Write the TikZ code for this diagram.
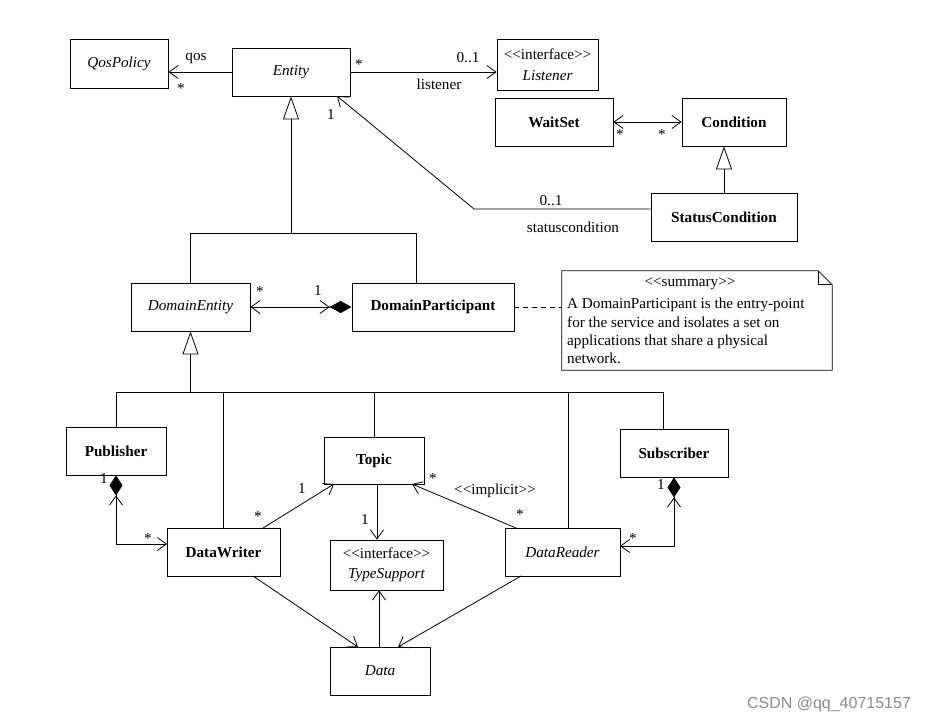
\documentclass[tikz,border=0pt]{standalone}
\usepackage{fontspec}
\setmainfont{Liberation Serif}[Ligatures=TeXOff]
\newfontfamily\wmfont{Liberation Sans}
\usetikzlibrary{arrows.meta}
\begin{document}
\begin{tikzpicture}[x=1pt,y=-1pt,
  every node/.style={font=\fontsize{15.2}{17}\selectfont},
  cls/.style={draw, line width=0.8pt, inner sep=0pt, align=center},
  two/.style={font=\fontsize{15.2}{20.5}\selectfont},
  ln/.style={line width=0.8pt},
  lbl/.style={inner sep=0pt},
  nb/.tip={Straight Barb[length=9pt,width=13pt,line width=0.8pt,sep=0pt]},
  dia/.tip={Diamond[length=22pt,width=12pt,sep=0pt]},
  pdia/.tip={Diamond[length=20pt,width=13pt,sep=0pt]},
  gtri/.tip={Triangle[open,length=23pt,width=16pt,line width=0.8pt,fill=white]}]
\fill[white] (0,0) rectangle (928,722);
\useasboundingbox (0,0) rectangle (928,722);

% classes
\node[cls, minimum width=98pt, minimum height=49pt] (qos) at (119,63.5) {\itshape QosPolicy};
\node[cls, minimum width=118pt, minimum height=48pt] (ent) at (291,72) {\itshape Entity};
\node[cls, two, minimum width=101pt, minimum height=51pt] (lis) at (547.5,64.5) {<<interface>>\\\itshape Listener};
\node[cls, minimum width=118pt, minimum height=48pt] (wait) at (554,122) {\bfseries WaitSet};
\node[cls, minimum width=104pt, minimum height=48pt] (cond) at (734,122) {\bfseries Condition};
\node[cls, minimum width=146pt, minimum height=48pt] (stat) at (724,217) {\bfseries StatusCondition};
\node[cls, minimum width=119pt, minimum height=48pt] (de) at (190.5,307) {\itshape DomainEntity};
\node[cls, minimum width=162pt, minimum height=48pt] (dp) at (433,307) {\bfseries DomainParticipant};
\node[cls, minimum width=100pt, minimum height=48pt] (pub) at (116,451) {\bfseries Publisher};
\node[cls, minimum width=100pt, minimum height=47pt] (topic) at (374,460.5) {\bfseries Topic};
\node[cls, minimum width=108pt, minimum height=48pt] (sub) at (674,453) {\bfseries Subscriber};
\node[cls, minimum width=113pt, minimum height=48pt] (dw) at (223.5,552) {\bfseries DataWriter};
\node[cls, two, minimum width=113pt, minimum height=50pt] (ts) at (386.5,565) {<<interface>>\\\itshape TypeSupport};
\node[cls, minimum width=115pt, minimum height=48pt] (dr) at (562.5,552) {\itshape DataReader};
\node[cls, minimum width=100pt, minimum height=48pt] (data) at (380,671) {\itshape Data};

% note
\node[minimum width=270pt, minimum height=99pt, inner sep=0pt] (note) at (697,320.5) {};
\draw[ln] (note.south west) -- (note.north west) -- ([xshift=-14pt]note.north east)
  -- ([yshift=-14pt]note.north east) -- (note.south east) -- cycle;
\draw[ln] ([xshift=-14pt]note.north east) -- ([xshift=-14pt,yshift=-14pt]note.north east) -- ([yshift=-14pt]note.north east);
\node[lbl] (sumt) at (690,284) {<<summary>>};
\node[lbl, anchor=base west] (n1) at (567,308) {A DomainParticipant is the entry-point};
\node[lbl, anchor=base west] (n2) at (567,327) {for the service and isolates a set on};
\node[lbl, anchor=base west] (n3) at (567,345) {applications that share a physical};
\node[lbl, anchor=base west] (n4) at (567,363) {network.};

% top connectors
\draw[ln,-{nb[]}] (ent.west) -- (ent.west -| qos.east);
\draw[ln,-{nb[]}] (ent.east) -- (ent.east -| lis.west);
\draw[ln,{nb[]}-{nb[]}] (wait.east) -- (cond.west);
\draw[ln,-{gtri[]}] (stat.north) -- (stat.north |- cond.south);
\coordinate (scbend) at (474,209);
\coordinate (entsc) at (337,96);
\draw[ln,-{nb[]}] (stat.west |- scbend) -- (scbend) -- (entsc);

% Entity generalization
\coordinate (g1) at (291,233);
\draw[ln,-{gtri[]}] (g1) -- (ent.south);
\coordinate (dptop) at (416,283);
\draw[ln] (de.north) |- (dptop |- g1) -- (dptop);
\draw[ln,{nb[]}-{nb[] dia[]}] (de.east) -- (dp.west);
\draw[ln,dash pattern=on 5pt off 4pt] (dp.east) -- (dp.east -| note.west);

% DomainEntity generalization
\coordinate (g2) at (190.5,392);
\draw[ln,-{gtri[]}] (g2) -- (de.south);
\coordinate (subtop) at (663,429);
\coordinate (drtop) at (568,528);
\draw[ln] (pub.north) |- (subtop |- g2) -- (subtop);
\draw[ln] (dw.north) -- (dw.north |- g2);
\draw[ln] (topic.north) -- (topic.north |- g2);
\draw[ln] (drtop) -- (drtop |- g2);

% compositions
\coordinate (dwl) at (167,544);
\draw[ln,{pdia[] nb[]}-{nb[]}] (pub.south) |- (dwl);
\coordinate (drr) at (620,546);
\draw[ln,{pdia[] nb[]}-{nb[]}] (sub.south) |- (drr);

% bottom associations
\coordinate (dwt) at (263,528); \coordinate (tpl) at (334,484);
\draw[ln,-{nb[]}] (dwt) -- (tpl);
\coordinate (drt) at (516,528); \coordinate (tpr) at (412,484);
\draw[ln,-{nb[]}] (drt) -- (tpr);
\draw[ln,-{nb[]}] ([xshift=3pt]topic.south) -- ([xshift=3pt]topic.south |- ts.north);
\draw[ln,-{nb[]}] ([xshift=-1pt]data.north) -- ([xshift=-1pt]data.north |- ts.south);
\coordinate (dwb) at (253,576); \coordinate (dal) at (358,647);
\draw[ln,-{nb[]}] (dwb) -- (dal);
\coordinate (drb) at (521,576); \coordinate (dar) at (398,647);
\draw[ln,-{nb[]}] (drb) -- (dar);

% labels
\node[lbl] (l1) at (196,58) {qos};
\node[lbl] (l2) at (181,89) {*};
\node[lbl] (l3) at (359,65) {*};
\node[lbl] (l4) at (468,58) {0..1};
\node[lbl] (l5) at (439,84) {listener};
\node[lbl] (l6) at (331,114) {1};
\node[lbl] (l7) at (620,135) {*};
\node[lbl] (l8) at (662,135) {*};
\node[lbl] (l9) at (551,201) {0..1};
\node[lbl] (l10) at (573,227) {statuscondition};
\node[lbl] (l11) at (260,292) {*};
\node[lbl] (l12) at (318,290) {1};
\node[lbl] (l13) at (104,478) {1};
\node[lbl] (l14) at (148,539) {*};
\node[lbl] (l15) at (258,517) {*};
\node[lbl] (l16) at (302,488) {1};
\node[lbl] (l17) at (365,519) {1};
\node[lbl] (l18) at (433,479) {*};
\node[lbl] (l19) at (495,491) {<<implicit>>};
\node[lbl] (l20) at (520,515) {*};
\node[lbl] (l21) at (661,484) {1};
\node[lbl] (l22) at (633,539) {*};

% watermark
\node[lbl, font=\wmfont\fontsize{16}{18}\selectfont, text=black!45] (wm) at (829,704) {CSDN @qq\_40715157};
\end{tikzpicture}
\end{document}
